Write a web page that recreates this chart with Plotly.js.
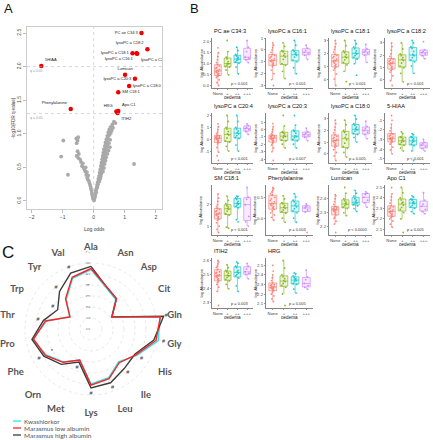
<!DOCTYPE html>
<html><head><meta charset="utf-8">
<script src="https://cdn.plot.ly/plotly-3.0.1.min.js"></script>
<style>html,body{margin:0;padding:0;background:#fff}#chart{width:433px;height:440px}</style>
</head><body><div id="chart"></div>
<script>
// ================= DATA =================
// Panel A: volcano plot
const hitNames = ['PC ae C34:3','lysoPC a C18:2','lysoPC a C18:1','lysoPC a C16:1','lysoPC a C20:4','5HIAA','Lumican','lysoPC a C20:3','lysoPC a C18:0','SM C18:1','Phenylalanine','HRG','Apo C1','ITIH2'];
const hitLogOdds = [1.54,1.73,1.25,1.38,1.40,-1.69,1.01,1.33,1.14,0.79,-0.74,0.73,0.79,0.77];
const hitNegLogQ = [2.50,2.26,2.20,2.20,2.19,2.01,1.88,1.82,1.71,1.62,1.37,1.33,1.34,1.31];
const otherLogOdds = [0.01,0.02,0.03,0.04,0.05,0.06,0.08,0.07,0.09,0.10,0.12,0.11,0.14,0.13,0.16,0.18,0.15,0.19,0.21,0.17,0.20,0.23,0.19,0.22,0.25,0.21,0.24,0.27,0.30,0.23,0.26,0.29,0.33,0.25,0.28,0.31,0.35,0.27,0.30,0.34,0.38,0.29,0.32,0.36,0.40,0.31,0.35,0.39,0.44,0.33,0.37,0.42,0.48,0.36,0.40,0.45,0.52,0.38,0.43,0.49,0.41,0.46,0.53,0.44,0.50,0.47,0.55,0.50,0.58,0.54,0.62,0.60,0.70,0.65,
 -0.01,-0.02,-0.03,-0.05,-0.06,-0.07,-0.09,-0.10,-0.12,-0.14,-0.16,-0.19,-0.21,-0.18,-0.24,-0.22,-0.27,-0.30,-0.26,-0.33,-0.38,-0.35,-0.41,-0.44,-0.50,-0.55,-0.48,-0.52,-0.55,-0.52,-0.50,-0.56,
 -0.98,-1.05,-0.83,1.30];
const otherNegLogQ = [0.01,0.03,0.05,0.07,0.10,0.12,0.13,0.16,0.18,0.20,0.21,0.24,0.25,0.28,0.30,0.29,0.33,0.34,0.33,0.37,0.38,0.37,0.42,0.43,0.41,0.47,0.48,0.46,0.44,0.52,0.53,0.51,0.49,0.57,0.58,0.56,0.55,0.62,0.63,0.61,0.60,0.67,0.68,0.66,0.65,0.72,0.73,0.71,0.70,0.77,0.78,0.76,0.75,0.82,0.83,0.81,0.80,0.87,0.88,0.86,0.92,0.93,0.91,0.97,0.98,1.02,1.01,1.06,1.05,1.10,1.09,1.14,1.16,1.18,
 0.02,0.04,0.06,0.09,0.12,0.15,0.18,0.21,0.24,0.27,0.30,0.32,0.35,0.38,0.39,0.43,0.44,0.47,0.50,0.50,0.52,0.56,0.58,0.62,0.64,0.67,0.70,0.74,0.86,0.90,0.95,0.93,
 0.90,0.66,0.39,0.55];
const qThresholds = [0.01, 0.05];
const volcanoXTicks = [-2,-1,0,1,2];
const volcanoYTicks = [0,0.5,1,1.5,2,2.5];

// Panel B: box plots
const oedemaGrades = ['None','+','++','+++'];
const boxTitles = ['PC ae C34:3','lysoPC a C16:1','lysoPC a C18:1','lysoPC a C18:2','lysoPC a C20:4','lysoPC a C20:3','lysoPC a C18:0','5-HIAA','SM C18:1','Phenylalanine','Lumican','Apo C1','ITIH2','HRG'];
const boxPValues = ['p < 0.001','p < 0.001','p < 0.001','p < 0.001','p < 0.001','p = 0.007','p = 0.005','p < 0.001','p < 0.001','p = 0.003','p < 0.0001','p = 0.005','p = 0.003','p = 0.005'];
const boxYTicks = [[0,0.5,1,1.5,2],[-3,-2,-1,0,1],[0,1,2,3],[0,1,2,3],[-1,0,1,2],[-4,-3,-2,-1,0,1],[0,1,2,3],[-5,-4,-3,-2,-1],[1,2],[0,0.5],[2.2,2.3,2.4,2.5],[2.1,2.2,2.3,2.4,2.5],[2.3,2.4,2.5,2.6],[2.1,2.2,2.3,2.4,2.5]];
const boxYTickText = [['0.0','0.5','1.0','1.5','2.0'],['-3','-2','-1','0','1'],['0','1','2','3'],['0','1','2','3'],['-1','0','1','2'],['-4','-3','-2','-1','0','1'],['0','1','2','3'],['-5','-4','-3','-2','-1'],['1','2'],['0.0','0.5'],['2.2','2.3','2.4','2.5'],['2.1','2.2','2.3','2.4','2.5'],['2.3','2.4','2.5','2.6'],['2.1','2.2','2.3','2.4','2.5']];

const pcAeC34_3 = [
 [0.02,0.15,0.28,0.38,0.44,0.47,0.52,0.56,0.6,0.63,0.66,0.7,0.74,0.79,0.84,0.9,0.96,1.05,1.18,1.32,1.5,1.72],
 [0.5,0.72,0.85,0.88,0.95,1.0,1.02,1.1,1.22,1.3,1.55,2.05],
 [0.55,0.85,1.02,1.08,1.15,1.2,1.23,1.3,1.35,1.42,1.6,1.75],
 [1.05,1.18,1.25,1.3,1.55,1.75,2.05]];
const lysoPC_C16_1 = [
 [-3.0,-2.5,-2.0,-1.7,-1.4,-1.3,-1.2,-1.1,-1.0,-0.95,-0.9,-0.85,-0.75,-0.65,-0.55,-0.45,-0.38,-0.2,0.0,0.2,0.4,0.6],
 [-2.4,-1.8,-1.3,-1.15,-0.8,-0.6,-0.45,-0.3,-0.15,-0.05,0.3,0.6],
 [-2.0,-1.5,-1.0,-0.85,-0.6,-0.45,-0.35,-0.25,-0.12,0.0,0.4,0.8],
 [-0.8,-0.45,-0.3,-0.2,-0.05,0.15,0.4]];
const lysoPC_C18_1 = [
 [-0.5,0.0,0.4,0.7,0.85,0.95,1.05,1.15,1.25,1.35,1.4,1.45,1.55,1.65,1.75,1.85,1.92,2.1,2.3,2.5,2.75,3.0],
 [-0.2,0.6,1.1,1.3,1.5,1.65,1.75,1.9,2.05,2.2,2.6,3.0],
 [0.3,1.2,1.55,1.7,1.85,1.95,2.05,2.2,2.35,2.5,2.75,3.0],
 [1.3,1.85,2.0,2.1,2.2,2.35,2.7]];
const lysoPC_C18_2 = [
 [-0.5,-0.1,0.3,0.6,0.75,0.85,0.95,1.05,1.15,1.25,1.3,1.35,1.42,1.5,1.58,1.65,1.72,1.9,2.1,2.4,2.7,3.0],
 [-0.2,0.5,0.95,1.1,1.35,1.55,1.65,1.8,1.95,2.1,2.5,3.0],
 [0.5,1.1,1.45,1.6,1.8,1.95,2.05,2.3,2.55,2.7,3.0,3.2],
 [1.7,1.95,2.1,2.2,2.3,2.45,3.1]];
const lysoPC_C20_4 = [
 [-1.8,-1.4,-1.1,-0.7,-0.4,-0.28,-0.2,-0.12,-0.05,0.0,0.05,0.08,0.12,0.17,0.22,0.27,0.32,0.45,0.6,0.8,1.05,1.3],
 [-1.0,-0.6,-0.25,-0.15,0.1,0.35,0.45,0.65,0.85,1.0,1.5,2.0],
 [-1.0,-0.5,0.05,0.15,0.3,0.45,0.55,0.7,0.85,1.0,1.5,2.0],
 [0.4,0.65,0.8,0.9,1.0,1.15,1.3]];
const lysoPC_C20_3 = [
 [-4.2,-3.0,-2.5,-2.1,-1.85,-1.7,-1.55,-1.45,-1.35,-1.25,-1.2,-1.15,-1.05,-0.98,-0.9,-0.85,-0.78,-0.6,-0.3,0.0,0.4,0.8],
 [-2.5,-2.0,-1.55,-1.4,-1.1,-0.95,-0.85,-0.6,-0.45,-0.3,0.5,1.9],
 [-2.5,-2.0,-1.55,-1.35,-1.1,-0.95,-0.85,-0.5,-0.25,-0.1,0.6,1.9],
 [-1.5,-1.05,-0.85,-0.7,-0.5,-0.3,0.2]];
const lysoPC_C18_0 = [
 [-0.6,-0.2,0.1,0.35,0.55,0.65,0.75,0.85,0.95,1.05,1.1,1.15,1.22,1.3,1.4,1.5,1.62,1.8,2.05,2.3,2.6,2.9],
 [-0.3,0.1,0.45,0.6,0.9,1.2,1.4,1.65,1.85,2.0,2.5,2.9],
 [1.0,1.4,1.65,1.75,1.95,2.05,2.15,2.3,2.45,2.6,3.0,3.3],
 [1.3,1.65,1.85,2.0,2.15,2.35,2.8]];
const hiaa5 = [
 [-4.5,-4.1,-3.8,-3.5,-3.35,-3.25,-3.15,-3.05,-3.0,-2.95,-2.9,-2.85,-2.75,-2.65,-2.55,-2.45,-2.38,-2.1,-1.8,-1.4,-1.0,-0.5],
 [-4.2,-3.9,-3.62,-3.5,-3.3,-3.2,-3.1,-2.95,-2.8,-2.7,-2.4,-2.2],
 [-5.2,-4.2,-3.65,-3.5,-3.3,-3.2,-3.1,-2.95,-2.8,-2.7,-2.5,-2.4],
 [-4.2,-3.95,-3.75,-3.6,-3.45,-3.3,-3.0]];
const smC18_1 = [
 [0.7,0.85,1.0,1.15,1.27,1.33,1.38,1.43,1.48,1.52,1.55,1.58,1.62,1.67,1.72,1.77,1.82,1.9,2.0,2.15,2.3,2.5],
 [0.9,0.95,1.5,1.58,1.7,1.78,1.83,1.9,1.95,2.05,2.2,2.4],
 [1.2,1.3,1.85,1.92,1.98,2.03,2.08,2.15,2.25,2.32,2.38,2.4],
 [1.0,1.2,1.45,2.0,2.25,2.35,2.8]];
const phenylalanine = [
 [-0.05,0.02,0.08,0.13,0.18,0.22,0.25,0.28,0.31,0.33,0.35,0.37,0.4,0.43,0.47,0.51,0.56,0.6,0.64,0.68,0.72,0.75],
 [-0.1,0.0,0.12,0.16,0.2,0.24,0.27,0.31,0.35,0.38,0.47,0.55],
 [-0.1,0.0,0.13,0.18,0.23,0.28,0.32,0.36,0.4,0.44,0.52,0.6],
 [-0.35,0.15,0.2,0.25,0.28,0.31,0.35]];
const lumican = [
 [2.16,2.22,2.24,2.26,2.27,2.285,2.295,2.305,2.31,2.315,2.32,2.323,2.326,2.33,2.334,2.338,2.345,2.36,2.38,2.4,2.42,2.43],
 [2.28,2.3,2.33,2.34,2.35,2.36,2.365,2.375,2.385,2.4,2.44,2.48],
 [2.31,2.33,2.35,2.36,2.365,2.37,2.38,2.39,2.4,2.42,2.44,2.46],
 [2.34,2.37,2.39,2.41,2.43,2.44,2.45]];
const apoC1 = [
 [2.12,2.15,2.18,2.2,2.215,2.225,2.235,2.245,2.255,2.265,2.27,2.275,2.285,2.295,2.305,2.315,2.325,2.35,2.38,2.41,2.44,2.5],
 [2.07,2.2,2.26,2.29,2.31,2.33,2.35,2.36,2.38,2.4,2.45,2.5],
 [2.25,2.27,2.3,2.315,2.33,2.345,2.355,2.365,2.38,2.39,2.41,2.42],
 [2.25,2.27,2.29,2.32,2.34,2.38,2.45]];
const itih2 = [
 [2.28,2.38,2.41,2.43,2.445,2.455,2.465,2.47,2.48,2.485,2.49,2.495,2.5,2.51,2.515,2.52,2.535,2.55,2.56,2.575,2.59,2.6],
 [2.4,2.43,2.455,2.465,2.48,2.49,2.495,2.51,2.52,2.53,2.55,2.57],
 [2.38,2.42,2.475,2.49,2.5,2.51,2.52,2.53,2.55,2.56,2.58,2.59],
 [2.47,2.5,2.51,2.52,2.54,2.56,2.58]];
const hrg = [
 [2.12,2.15,2.18,2.2,2.22,2.235,2.245,2.255,2.26,2.265,2.27,2.275,2.28,2.29,2.295,2.3,2.315,2.34,2.37,2.4,2.44,2.5],
 [2.08,2.2,2.27,2.29,2.31,2.33,2.34,2.36,2.38,2.4,2.47,2.55],
 [2.21,2.25,2.3,2.31,2.33,2.34,2.35,2.36,2.37,2.39,2.41,2.42],
 [2.25,2.27,2.29,2.31,2.35,2.38,2.45]];
const boxData = [pcAeC34_3,lysoPC_C16_1,lysoPC_C18_1,lysoPC_C18_2,lysoPC_C20_4,lysoPC_C20_3,lysoPC_C18_0,hiaa5,smC18_1,phenylalanine,lumican,apoC1,itih2,hrg];

// Panel C: radar (log odds)
const aminoAcids = ['Ala','Asn','Asp','Cit','Gln','Gly','His','Ile','Leu','Lys','Met','Orn','Phe','Pro','Thr','Trp','Tyr','Val'];
const kwashiorkor      = [5.4,4.0,3.5,2.15,6.4,6.2,4.8,3.9,4.7,5.0,3.0,3.9,4.7,5.4,4.1,2.25,3.5,4.9];
const marasmusLowAlb   = [5.5,4.1,3.6,2.2,6.4,6.0,4.7,4.0,4.8,5.1,3.0,3.95,4.8,5.3,4.2,2.2,3.6,5.0];
const marasmusHighAlb  = [5.7,4.1,3.6,2.2,6.7,5.8,4.6,4.7,5.2,5.35,3.2,4.2,4.95,5.45,4.4,3.5,4.45,5.4];
const hashAcids = ['Gln','Gly','His','Ile','Leu','Lys','Met','Phe','Thr','Trp','Tyr','Val'];
const starAcids = ['Phe'];
const radarTicks = [0,1,2,3,4,5,6,7];
const seriesNames = ['Kwashiorkor','Marasmus low albumin','Marasmus high albumin'];

// ================= STYLE / LAYOUT =================
const W = 433, H = 440;
const px = v => v / W, py = v => 1 - v / H;
const FONT = 'Liberation Sans, Arial, sans-serif';
const gradeColors = ['#F8766D','#7CAE00','#00BFC4','#C77CFF'];
const gradeFills = ['rgba(248,118,109,0.15)','rgba(124,174,0,0.15)','rgba(0,191,196,0.15)','rgba(199,124,255,0.15)'];
const seriesColors = ['#2fe3ef','#ff2222','#3c3c3c'];

const traces = [];
const layout = {
  width: W, height: H, margin: {l:0,r:0,t:0,b:0}, showlegend: false,
  paper_bgcolor: '#fff', plot_bgcolor: 'rgba(0,0,0,0)',
  font: {family: FONT, color: '#333'},
  annotations: [], shapes: []
};

// ---- Panel A ----
layout.xaxis = {domain:[px(27),px(162)], anchor:'y', range:[-2.15,2.2], tickvals: volcanoXTicks,
  ticks:'outside', ticklen:3, tickwidth:0.5, tickcolor:'#777', tickfont:{size:5,color:'#444'},
  showline:true, mirror:true, linecolor:'#aaa', linewidth:0.6, showgrid:false, zeroline:false};
layout.yaxis = {domain:[py(209),py(27)], anchor:'x', range:[-0.12,2.59], tickvals: volcanoYTicks, tickformat:'.1f', tickangle:-90,
  ticks:'outside', ticklen:3, tickwidth:0.5, tickcolor:'#777', tickfont:{size:5,color:'#444'},
  showline:true, mirror:true, linecolor:'#aaa', linewidth:0.6, showgrid:false, zeroline:false};
layout.annotations.push({xref:'x domain', yref:'paper', x:0.5, y:py(229), text:'Log odds', showarrow:false, font:{size:5,color:'#444'}});
layout.annotations.push({xref:'paper', yref:'y domain', x:px(8), y:0.5, textangle:-90, text:'-log10(FDR q-value)', showarrow:false, font:{size:4.5,color:'#444'}});
traces.push({type:'scatter', mode:'markers', x: otherLogOdds, y: otherNegLogQ, xaxis:'x', yaxis:'y',
  marker:{size:3.8, color:'#a9a9a9'}, hoverinfo:'skip'});
const hitTextPos = ['middle left','top left','middle left','bottom left','bottom right','top right','top center','middle left','middle right','middle right','top left','top left','top right','bottom right'];
traces.push({type:'scatter', mode:'markers+text', x: hitLogOdds, y: hitNegLogQ, xaxis:'x', yaxis:'y',
  text: hitNames, textposition: hitTextPos, textfont:{size:4, color:'#222'},
  marker:{size:4.5, color:'#f00000'}, hoverinfo:'skip'});
qThresholds.forEach(q => {
  const yv = -Math.log10(q);
  layout.shapes.push({type:'line', xref:'x domain', yref:'y', x0:0, x1:1, y0:yv, y1:yv, line:{color:'#bbb', width:0.6, dash:'dot'}});
  layout.annotations.push({xref:'x domain', yref:'y', x:0.01, y:yv, xanchor:'left', yanchor:'top', text:'q = ' + q.toFixed(2), showarrow:false, font:{size:3.5,color:'#999'}});
});
layout.shapes.push({type:'line', xref:'x', yref:'y domain', x0:0, x1:0, y0:0, y1:1, line:{color:'#bbb', width:0.6, dash:'dot'}});

// ---- Panel B ----
const colX = [[212,253],[266,313],[329,372],[385,430]];
const rowY = [[38,88],[113,163],[185,235],[258,308]];
boxData.forEach((groups, i) => {
  const k = i + 2, r = Math.floor(i/4), c = i % 4;
  const xa = 'x'+k, ya = 'y'+k;
  layout['xaxis'+k] = {domain:[px(colX[c][0]), px(colX[c][1])], anchor: ya, type:'category',
    categoryorder:'array', categoryarray: oedemaGrades, range:[-0.6,3.6],
    ticks:'outside', ticklen:1.5, tickwidth:0.5, tickcolor:'#333', tickfont:{size:4.3,color:'#444'},
    showline:true, linecolor:'#333', linewidth:0.6, showgrid:false, zeroline:false};
  layout['yaxis'+k] = {domain:[py(rowY[r][1]), py(rowY[r][0])], anchor: xa,
    tickvals: boxYTicks[i], ticktext: boxYTickText[i],
    ticks:'outside', ticklen:1.5, tickwidth:0.5, tickcolor:'#333', tickfont:{size:4.3,color:'#444'},
    showline:true, linecolor:'#333', linewidth:0.6, showgrid:false, zeroline:false};
  groups.forEach((vals, g) => {
    traces.push({type:'box', y: vals, x0: oedemaGrades[g], name: oedemaGrades[g], xaxis: xa, yaxis: ya,
      boxpoints:'all', jitter:0.7, pointpos:0, width:0.7, whiskerwidth:0,
      marker:{size:1.8, color: gradeColors[g], opacity:0.85},
      line:{color: gradeColors[g], width:0.6}, fillcolor: gradeFills[g], hoverinfo:'skip'});
  });
  layout.annotations.push({xref: xa+' domain', yref: ya+' domain', x:0, y:1, xanchor:'left', yanchor:'bottom', yshift:2,
    text: boxTitles[i], showarrow:false, font:{size:5.6, color:'#111'}});
  layout.annotations.push({xref: xa+' domain', yref: ya+' domain', x:0.68, y:0.1, xanchor:'center', yanchor:'middle',
    text: boxPValues[i], showarrow:false, font:{size:4, color:'#333'}});
  layout.annotations.push({xref: xa+' domain', yref: ya+' domain', x:0.5, y:0, yshift:-9.5, xanchor:'center', yanchor:'middle',
    text: 'oedema', showarrow:false, font:{size:4.6, color:'#222'}});
  layout.annotations.push({xref: xa+' domain', yref: ya+' domain', x:0, y:0.5, xshift:-11.5, xanchor:'center', yanchor:'middle', textangle:-90,
    text: 'log Abundance', showarrow:false, font:{size:4.3, color:'#222'}});
});

// ---- Panel C ----
const cx = 91, cy = 329, rad = 77;
layout.polar = {domain:{x:[px(cx-rad), px(cx+rad)], y:[py(cy+rad), py(cy-rad)]}, bgcolor:'rgba(0,0,0,0)',
  radialaxis:{range:[0,7], tickvals: radarTicks, angle:90, tickangle:0, side:'counterclockwise',
    tickfont:{size:4.5, color:'#888'}, showline:false, ticks:'', gridcolor:'#d8d8d8', griddash:'dot', gridwidth:0.6},
  angularaxis:{type:'category', categoryarray: aminoAcids, rotation:90, direction:'clockwise',
    tickfont:{size:9.5, color:'#555', family:'Lato, sans-serif', weight:'bold'}, showgrid:false, showline:false, ticks:''}};
const close = a => a.concat([a[0]]);
[kwashiorkor, marasmusHighAlb, marasmusLowAlb].forEach((s, j) => {
  const idx = [0,2,1][j];
  traces.push({type:'scatterpolar', mode:'lines', r: close(s), theta: close(aminoAcids),
    line:{color: seriesColors[idx], width:1.4}, name: seriesNames[idx], hoverinfo:'skip'});
});
const valsAt = a => { const i = aminoAcids.indexOf(a); return [kwashiorkor[i], marasmusLowAlb[i], marasmusHighAlb[i]]; };
traces.push({type:'scatterpolar', mode:'text', theta: hashAcids, r: hashAcids.map(a => Math.min(Math.max(...valsAt(a)) + 0.5, 6.95)),
  text: hashAcids.map(() => '#'), textfont:{size:5.5, color:'#333'}, hoverinfo:'skip'});
traces.push({type:'scatterpolar', mode:'text', theta: starAcids, r: starAcids.map(a => Math.min(...valsAt(a)) - 0.6),
  text: starAcids.map(() => '*'), textfont:{size:6, color:'#333'}, hoverinfo:'skip'});
// compact legend
seriesNames.forEach((n, j) => {
  const yy = 421 + 7*j;
  layout.shapes.push({type:'line', xref:'paper', yref:'paper', x0:px(13), x1:px(21), y0:py(yy), y1:py(yy), line:{color: seriesColors[j], width:1.3}});
  layout.annotations.push({xref:'paper', yref:'paper', x:px(21.5), y:py(yy), xanchor:'left', yanchor:'middle', text:n, showarrow:false, font:{size:6.5, color:'#555', family:'Lato, sans-serif'}});
});

// Panel letters
[['A',8,8,13],['B',194,8,13],['C',8,252,17]].forEach(([t,x,y,s]) => {
  layout.annotations.push({xref:'paper', yref:'paper', x:px(x), y:py(y), xanchor:'center', yanchor:'middle', text:t, showarrow:false, font:{size:s, color:'#111', family:'Liberation Sans, Arial'}});
});

Plotly.newPlot('chart', traces, layout, {staticPlot:true, displayModeBar:false});
</script></body></html>
